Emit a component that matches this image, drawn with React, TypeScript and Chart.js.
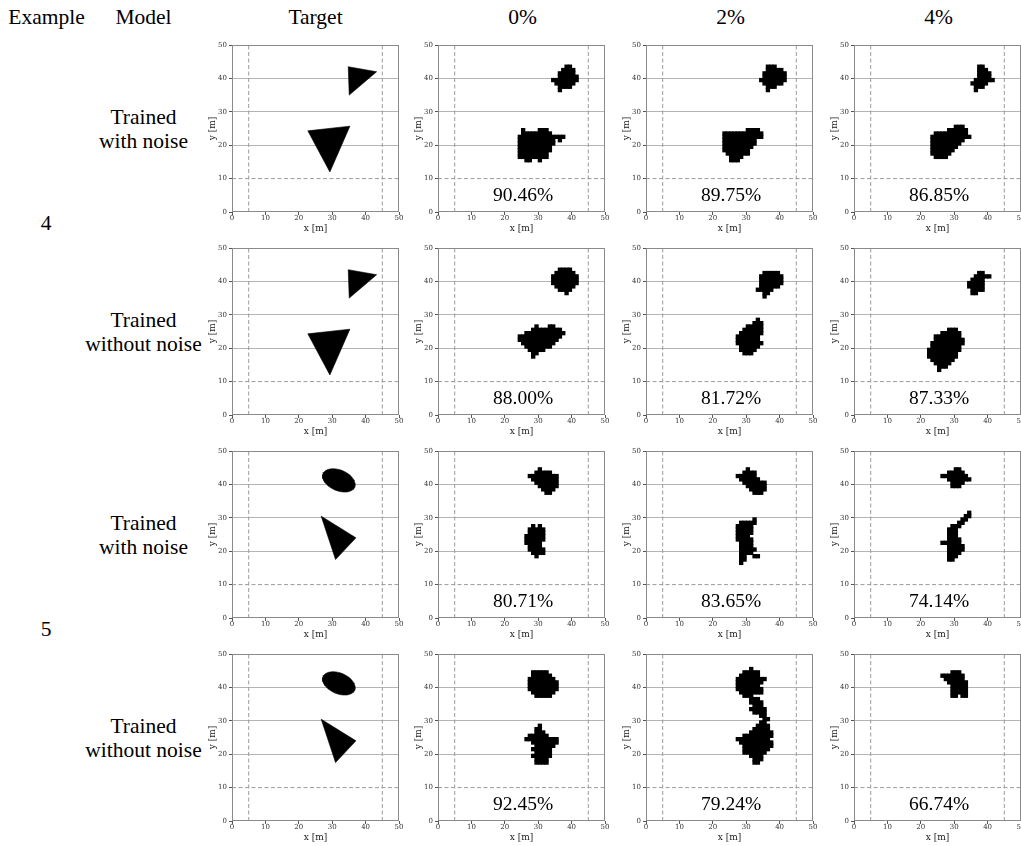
import React, { useEffect, useRef } from "react";
import { Chart, registerables } from "chart.js";

Chart.register(...registerables);

type Run = [number, number, number]; // [row y, first cell x, last cell x]
type Pt = [number, number];

// ---------- text ----------
const columnHeaders = ["Target", "0%", "2%", "4%"];
const exampleLabels = ["4", "5"];
const modelLabels: string[][] = [
  ["Trained", "with noise"],
  ["Trained", "without noise"],
  ["Trained", "with noise"],
  ["Trained", "without noise"],
];
const accuracies: number[][] = [
  [90.46, 89.75, 86.85],
  [88.0, 81.72, 87.33],
  [80.71, 83.65, 74.14],
  [92.45, 79.24, 66.74],
];

// ---------- axes ----------
const axisTicks = [0, 10, 20, 30, 40, 50];
const solidGridValues = [20, 30, 40];
const dashedX = [5, 45];
const dashedY = [10];

// ---------- target shapes ----------
const ex4SmallTriangle: Pt[] = [[34.8, 43.5], [43.3, 42], [35.1, 35]];
const ex4LargeTriangle: Pt[] = [[22.7, 24.3], [35.3, 25.7], [29.3, 12]];
const ex5Ellipse = { cx: 32, cy: 41.2, a: 5.15, b: 3.1, angleDeg: -23 };
const ex5Triangle: Pt[] = [[26.7, 30.5], [37.1, 24], [31, 17.5]];

// ---------- reconstructed pixel maps (1 m cells) ----------
const ex4WithNoise0: Run[] = [
  [43, 38, 39], [42, 37, 40], [41, 36, 40], [40, 36, 41], [39, 34, 41], [38, 35, 40], [37, 36, 39], [36, 36, 36],
  [24, 25, 25], [24, 30, 32], [23, 25, 33], [22, 24, 37], [21, 24, 34], [21, 36, 36], [20, 24, 34], [19, 24, 33],
  [18, 24, 33], [17, 24, 32], [16, 24, 32], [15, 26, 27], [15, 30, 30],
];
const ex4WithNoise2: Run[] = [
  [43, 36, 38], [42, 36, 40], [41, 35, 41], [40, 35, 41], [39, 34, 41], [38, 35, 40], [37, 36, 38], [36, 36, 36],
  [24, 30, 33], [23, 23, 34], [22, 23, 34], [21, 23, 32], [20, 23, 32], [19, 23, 31], [18, 23, 30], [17, 24, 30],
  [16, 25, 28], [15, 25, 27],
];
const ex4WithNoise4: Run[] = [
  [43, 37, 38], [42, 37, 39], [41, 37, 40], [40, 37, 40], [39, 36, 41], [38, 35, 39], [37, 36, 38], [36, 36, 36],
  [25, 30, 32], [24, 28, 33], [23, 24, 33], [22, 23, 34], [21, 23, 32], [20, 23, 31], [19, 23, 30], [18, 23, 29],
  [17, 23, 28], [16, 24, 27],
];
const ex4WithoutNoise0: Run[] = [
  [43, 36, 39], [42, 35, 40], [41, 34, 41], [40, 34, 41], [39, 34, 41], [38, 35, 40], [37, 36, 39], [36, 38, 38],
  [26, 29, 29], [26, 33, 34], [25, 28, 36], [24, 26, 37], [23, 24, 36], [22, 24, 35], [21, 25, 34], [20, 26, 33],
  [19, 27, 31], [18, 28, 29], [17, 28, 28],
];
const ex4WithoutNoise2: Run[] = [
  [42, 35, 39], [41, 34, 40], [40, 34, 40], [39, 34, 40], [38, 34, 39], [37, 33, 37], [36, 35, 36], [35, 35, 35],
  [28, 33, 33], [27, 32, 34], [26, 30, 34], [25, 29, 34], [24, 28, 34], [23, 27, 33], [22, 27, 33], [21, 27, 34],
  [20, 28, 33], [19, 28, 32], [18, 29, 31],
];
const ex4WithoutNoise4: Run[] = [
  [42, 37, 38], [41, 36, 40], [40, 35, 38], [39, 34, 38], [38, 34, 38], [37, 35, 38], [36, 35, 36],
  [25, 28, 30], [24, 26, 31], [23, 24, 31], [22, 24, 32], [21, 23, 32], [20, 23, 31], [19, 22, 31], [18, 22, 30],
  [17, 22, 30], [16, 23, 29], [15, 24, 28], [14, 25, 27], [13, 25, 25],
];
const ex5WithNoise0: Run[] = [
  [44, 30, 30], [43, 29, 33], [42, 27, 35], [41, 28, 35], [40, 29, 35], [39, 30, 35], [38, 31, 34], [37, 32, 33],
  [27, 28, 28], [27, 30, 30], [26, 27, 31], [25, 27, 31], [24, 26, 31], [23, 26, 31], [22, 26, 30], [21, 27, 30],
  [20, 27, 31], [19, 28, 31], [18, 29, 29],
];
const ex5WithNoise2: Run[] = [
  [44, 30, 30], [43, 29, 32], [42, 27, 32], [41, 28, 33], [40, 29, 35], [39, 30, 35], [38, 31, 35], [37, 32, 34],
  [29, 32, 32], [28, 28, 32], [27, 27, 31], [26, 27, 31], [25, 27, 31], [24, 27, 30], [23, 27, 31], [22, 28, 31],
  [21, 28, 31], [20, 28, 32], [19, 28, 31], [18, 28, 29], [18, 32, 33], [17, 28, 29], [16, 28, 28],
];
const ex5WithNoise4: Run[] = [
  [44, 30, 31], [43, 28, 32], [42, 26, 33], [41, 28, 34], [40, 29, 32], [39, 29, 31],
  [31, 34, 34], [30, 33, 34], [29, 32, 33], [28, 31, 32], [27, 29, 31], [26, 28, 30], [25, 28, 30], [24, 28, 30],
  [23, 28, 31], [22, 26, 31], [21, 28, 32], [20, 28, 32], [19, 28, 31], [18, 28, 30], [17, 28, 29],
];
const ex5WithoutNoise0: Run[] = [
  [44, 28, 32], [43, 28, 33], [42, 27, 34], [41, 27, 35], [40, 27, 35], [39, 27, 35], [38, 28, 34], [37, 29, 33],
  [28, 30, 30], [27, 29, 30], [26, 29, 31], [25, 27, 32], [24, 26, 35], [23, 28, 35], [22, 29, 34], [21, 28, 33],
  [20, 29, 33], [19, 28, 33], [18, 29, 32], [17, 29, 32],
];
const ex5WithoutNoise2: Run[] = [
  [45, 31, 31], [44, 29, 33], [43, 28, 33], [42, 27, 35], [41, 27, 34], [40, 27, 33], [39, 27, 34], [38, 28, 34],
  [37, 29, 31], [36, 31, 33], [35, 31, 34], [34, 32, 34], [33, 31, 35], [32, 32, 35], [31, 34, 35], [30, 35, 36],
  [29, 34, 35], [28, 33, 36], [27, 32, 36], [26, 31, 37], [25, 29, 37], [24, 27, 36], [23, 28, 37], [22, 29, 37],
  [21, 29, 36], [20, 29, 35], [19, 31, 34], [18, 32, 34], [17, 32, 33],
];
const ex5WithoutNoise4: Run[] = [
  [44, 29, 31], [43, 26, 32], [42, 27, 32], [41, 28, 33], [40, 29, 33], [39, 29, 33], [38, 29, 33],
  [37, 29, 30], [37, 32, 33],
];

// ---------- layout (page pixels) ----------
const PLOT_LEFTS = [232, 438, 646, 854];
const PLOT_TOPS = [45, 248, 451, 654];
const PLOT = 167;
const PAD_L = 2;
const Y_W = 30;
const PAD_T = 6;
const PAD_R = 7;
const X_H = 25;
const CW = PAD_L + Y_W + PLOT + PAD_R;
const CH = PAD_T + PLOT + X_H;
const CELL_PX = PLOT / 50;

const SERIF = '"Liberation Serif", "Times New Roman", serif';
const AXIS_FONT = "DejaVu Serif";

function ellipsePolygon(e: typeof ex5Ellipse): Pt[] {
  const pts: Pt[] = [];
  const th = (e.angleDeg * Math.PI) / 180;
  const n = 72;
  for (let i = 0; i < n; i++) {
    const t = (i / n) * Math.PI * 2;
    const ux = e.a * Math.cos(t);
    const uy = e.b * Math.sin(t);
    pts.push([e.cx + ux * Math.cos(th) - uy * Math.sin(th), e.cy + ux * Math.sin(th) + uy * Math.cos(th)]);
  }
  return pts;
}

const rowTargets: Pt[][][] = [
  [ex4SmallTriangle, ex4LargeTriangle],
  [ex4SmallTriangle, ex4LargeTriangle],
  [ellipsePolygon(ex5Ellipse), ex5Triangle],
  [ellipsePolygon(ex5Ellipse), ex5Triangle],
];
const rowBlobs: Run[][][] = [
  [ex4WithNoise0, ex4WithNoise2, ex4WithNoise4],
  [ex4WithoutNoise0, ex4WithoutNoise2, ex4WithoutNoise4],
  [ex5WithNoise0, ex5WithNoise2, ex5WithNoise4],
  [ex5WithoutNoise0, ex5WithoutNoise2, ex5WithoutNoise4],
];

type PanelProps = {
  left: number;
  top: number;
  polygons: Pt[][];
  runs: Run[] | null;
  accuracy: number | null;
};

function Panel({ left, top, polygons, runs, accuracy }: PanelProps) {
  const ref = useRef<HTMLCanvasElement>(null);
  useEffect(() => {
    if (!ref.current) return;
    const datasets: any[] = [];
    polygons.forEach((poly) => {
      const d = poly.map(([x, y]) => ({ x, y }));
      d.push({ ...d[0] });
      datasets.push({
        data: d,
        showLine: true,
        fill: "shape",
        backgroundColor: "#000",
        borderColor: "#000",
        borderWidth: 0.6,
        pointRadius: 0,
        tension: 0,
      });
    });
    if (runs) {
      const pts: { x: number; y: number }[] = [];
      runs.forEach(([row, x0, x1]) => {
        for (let x = x0; x <= x1; x++) pts.push({ x: x + 0.5, y: row + 0.5 });
      });
      datasets.push({
        data: pts,
        showLine: false,
        pointStyle: "rect",
        pointRadius: (CELL_PX + 1) / Math.SQRT2,
        pointBackgroundColor: "#000",
        pointBorderWidth: 0,
        pointBorderColor: "#000",
      });
    }
    const dashStyle = {
      showLine: true,
      fill: false,
      borderColor: "#9a9a9a",
      borderWidth: 1,
      borderDash: [4, 2.5],
      pointRadius: 0,
    };
    dashedX.forEach((v) => datasets.push({ ...dashStyle, data: [{ x: v, y: 0 }, { x: v, y: 50 }] }));
    dashedY.forEach((v) => datasets.push({ ...dashStyle, data: [{ x: 0, y: v }, { x: 50, y: v }] }));

    const framePlugin = {
      id: "frame",
      afterDatasetsDraw(chart: any) {
        const { ctx, chartArea: a } = chart;
        ctx.save();
        ctx.strokeStyle = "#8a8a8a";
        ctx.lineWidth = 1;
        ctx.strokeRect(a.left + 0.5, a.top + 0.5, a.right - a.left - 1, a.bottom - a.top - 1);
        if (accuracy !== null) {
          ctx.fillStyle = "#000";
          ctx.font = `19.5px ${SERIF}`;
          ctx.textAlign = "center";
          ctx.textBaseline = "alphabetic";
          ctx.fillText(
            `${accuracy.toFixed(2)}%`,
            chart.scales.x.getPixelForValue(25.5),
            chart.scales.y.getPixelForValue(3.3)
          );
        }
        ctx.restore();
      },
    };

    const tickFont = { family: AXIS_FONT, size: 7 };
    const titleFont = { family: AXIS_FONT, size: 9 };
    const setTicks = (s: any) => {
      s.ticks = axisTicks.map((v) => ({ value: v }));
    };

    const chart = new Chart(ref.current, {
      type: "scatter",
      data: { datasets },
      options: {
        animation: false,
        responsive: false,
        devicePixelRatio: 1,
        events: [],
        layout: { padding: { left: PAD_L, top: PAD_T, right: PAD_R, bottom: 0 } },
        plugins: { legend: { display: false }, tooltip: { enabled: false } },
        scales: {
          x: {
            type: "linear",
            min: 0,
            max: 50,
            afterBuildTicks: setTicks,
            ticks: { font: tickFont, color: "#333", padding: -1, maxRotation: 0, autoSkip: false },
            grid: { color: "rgba(0,0,0,0)", tickColor: "#555", tickLength: 3 },
            border: { display: false },
            title: { display: true, text: "x [m]", font: titleFont, color: "#222", padding: { top: 0, bottom: 2.6 } },
            afterFit: (s: any) => {
              s.height = X_H;
              s.paddingLeft = 0;
              s.paddingRight = 0;
            },
          },
          y: {
            type: "linear",
            min: 0,
            max: 50,
            afterBuildTicks: setTicks,
            ticks: { font: tickFont, color: "#333", padding: 2, autoSkip: false },
            grid: {
              color: (c: any) =>
                c.tick && solidGridValues.includes(c.tick.value) ? "#b4b4b4" : "rgba(0,0,0,0)",
              tickColor: "#555",
              tickLength: 3,
            },
            border: { display: false },
            title: { display: true, text: "y [m]", font: titleFont, color: "#222", padding: { top: 5.6, bottom: 0 } },
            afterFit: (s: any) => {
              s.width = Y_W;
              s.paddingTop = 0;
              s.paddingBottom = 0;
            },
          },
        },
      } as any,
      plugins: [framePlugin],
    });
    return () => chart.destroy();
  }, []);
  return (
    <canvas
      ref={ref}
      width={CW}
      height={CH}
      style={{ position: "absolute", left: left - PAD_L - Y_W, top: top - PAD_T, width: CW, height: CH }}
    />
  );
}

const textBase: React.CSSProperties = {
  position: "absolute",
  width: 200,
  marginLeft: -100,
  textAlign: "center",
  fontFamily: SERIF,
  fontSize: 21.5,
  lineHeight: "24px",
  color: "#000",
  whiteSpace: "nowrap",
};

export default function App() {
  const rowCenter = (r: number) => PLOT_TOPS[r] + PLOT / 2;
  return (
    <div
      style={{
        position: "fixed",
        left: 0,
        top: 0,
        width: 1021,
        height: 846,
        overflow: "hidden",
        background: "#fff",
      }}
    >
      <div style={{ ...textBase, left: 46.5, top: 5 }}>Example</div>
      <div style={{ ...textBase, left: 143.5, top: 5 }}>Model</div>
      {columnHeaders.map((h, i) => (
        <div key={h} style={{ ...textBase, left: PLOT_LEFTS[i] + PLOT / 2 + (i > 0 ? 1 : 0), top: 5 }}>
          {h}
        </div>
      ))}
      {exampleLabels.map((e, i) => (
        <div key={e} style={{ ...textBase, left: 46, top: (rowCenter(2 * i) + rowCenter(2 * i + 1)) / 2 - 19 }}>
          {e}
        </div>
      ))}
      {modelLabels.map((lines, r) => (
        <div key={r} style={{ ...textBase, left: 143.5, top: rowCenter(r) - 24 }}>
          {lines.map((l, k) => (
            <div key={k}>{l}</div>
          ))}
        </div>
      ))}
      {PLOT_TOPS.map((top, r) =>
        PLOT_LEFTS.map((left, c) => (
          <Panel
            key={`${r}-${c}`}
            left={left}
            top={top}
            polygons={c === 0 ? rowTargets[r] : []}
            runs={c === 0 ? null : rowBlobs[r][c - 1]}
            accuracy={c === 0 ? null : accuracies[r][c - 1]}
          />
        ))
      )}
    </div>
  );
}
